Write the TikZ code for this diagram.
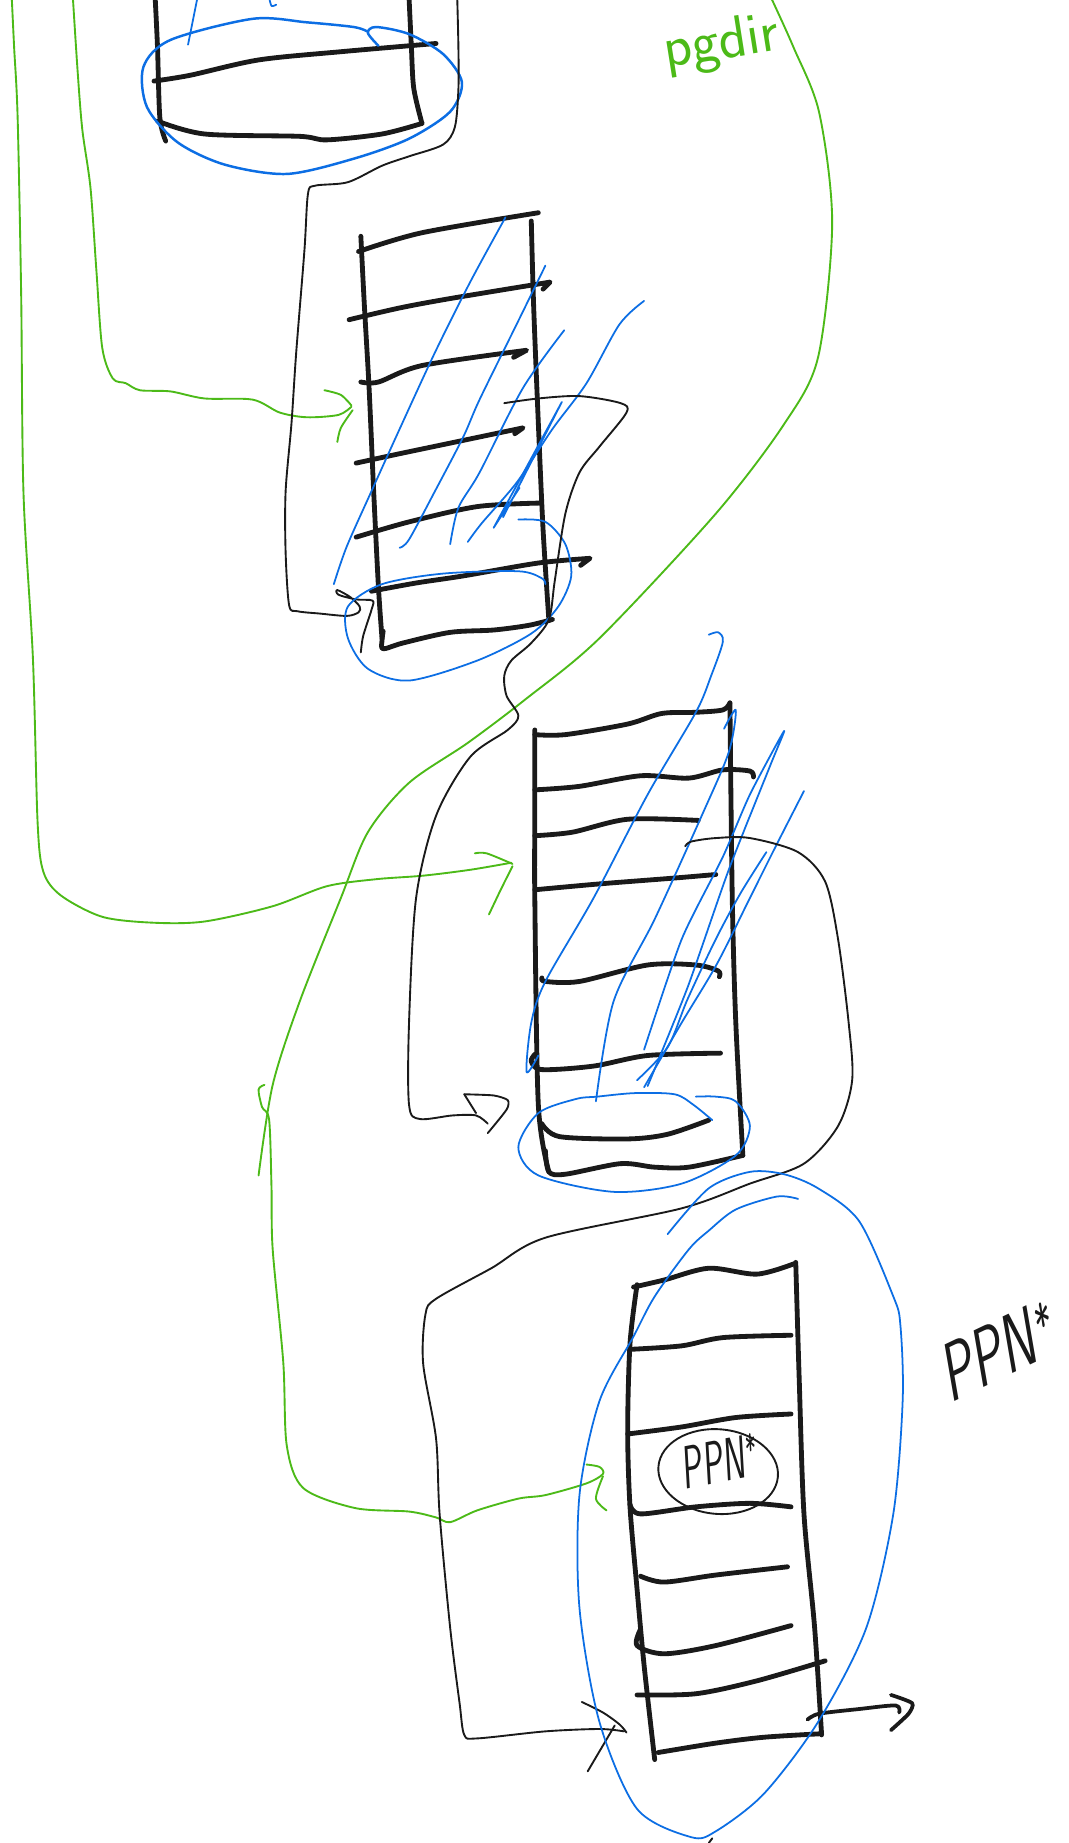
\documentclass[tikz,border=0pt]{standalone}
\usetikzlibrary{shapes.geometric}
\definecolor{inkblack}{RGB}{26,26,26}
\definecolor{hatchblue}{RGB}{12,110,228}
\definecolor{pengreen}{RGB}{76,186,24}
\begin{document}
\begin{tikzpicture}[x=1pt,y=-1pt,
  tbl/.style={draw=inkblack,line width=4.1pt,line cap=round,line join=round},
  thin/.style={draw=inkblack,line width=1.6pt,line cap=round,line join=round},
  hatch/.style={draw=hatchblue,line width=1.5pt,line cap=round,line join=round},
  grn/.style={draw=pengreen,line width=1.6pt,line cap=round,line join=round},
  handtext/.style={font=\sffamily, inner sep=0pt}]
\fill[white] (0,0) rectangle (909,1568);
\useasboundingbox (0,0) rectangle (909,1568);

% ---------- green pointers ----------
\draw[grn] plot[smooth] coordinates {(10,-2) (12,40) (15,100) (18,250) (20,420) (28,560) (32,700) (37,742) (52,762) (87,780) (130,785) (174,784) (232,771) (278,754) (320,748) (360,745) (400,740) (435,734)};
\draw[grn] plot[smooth] coordinates {(404,726) (414,726) (436,735)};
\draw[grn] plot[smooth] coordinates {(436,737) (426,757) (416,778)};

\draw[grn] plot[smooth] coordinates {(62,-2) (66,60) (70,110) (77,160) (82,230) (87,296) (96,322) (107,326) (119,332) (145,333) (174,339) (215,340) (238,351) (261,355) (288,353) (299,346)};
\draw[grn] plot[smooth] coordinates {(276,332) (290,336) (299,345)};
\draw[grn] plot[smooth] coordinates {(300,349) (290,364) (287,376)};

\draw[grn] plot[smooth] coordinates {(656,-2) (675,40) (697,96) (708,190) (696,304) (667,361) (609,437) (510,543) (447,595) (398,632) (348,666) (313,708) (290,764) (255,852) (232,923) (220,1000)};

\draw[grn] plot[smooth] coordinates {(225,923) (220,927) (223,942) (229,953) (231,1011) (232,1063) (241,1159) (244,1230) (258,1266) (302,1283) (348,1286) (371,1291) (383,1295) (406,1285) (441,1275) (464,1272) (499,1262) (513,1254) (510,1248) (499,1246)};
\draw[grn] plot[smooth] coordinates {(513,1256) (507,1275) (516,1285)};

\node[handtext, text=pengreen, font=\sffamily\fontsize{50}{52}\selectfont, rotate=9] (pgdir) at (614,38) {pgdir};

% ---------- first table (top) ----------
\draw[tbl] plot[smooth] coordinates {(132,-2) (134,40) (136,100) (141,120)};
\draw[tbl] plot[smooth] coordinates {(348,-2) (350,40) (352,75) (359,105)};
\draw[tbl] plot[smooth] coordinates {(131,69) (162,64) (220,51) (290,44) (371,37)};
\draw[tbl] plot[smooth] coordinates {(134,103) (174,114) (255,116) (278,119) (325,114) (359,105)};

\draw[hatch] (160,38) -- (168,-2);
\draw[hatch] plot[smooth] coordinates {(229,-2) (231,5) (235,4)};
\draw[hatchblue,line width=2.1pt,line cap=round] plot[smooth] coordinates {(322,39) (313,28) (320,23) (348,29) (377,46) (393,70) (383,95) (348,118) (301,135) (244,148) (191,140) (151,121) (125,91) (122,57) (145,34) (215,16) (261,19) (301,23) (313,27)};

% link from the first table down to the second
\draw[thin] plot[smooth, tension=0.5] coordinates {(389,-2) (390,40) (390,76) (387,108) (377,123) (348,133) (325,141) (296,155) (268,158) (262,165) (259,213) (252,300) (248,360) (243,418) (243,470) (246,515) (253,520) (272,522) (295,524) (305,521) (306,516) (298,508) (287,502) (288,506) (303,510) (317,511) (316,519) (309,541) (307,555)};

% ---------- second table ----------
\draw[tbl] plot[smooth] coordinates {(307,201) (310,260) (314,330) (318,420) (322,500) (325,543)};
\draw[tbl] plot[smooth] coordinates {(305,214) (359,198) (458,181)};
\draw[tbl] plot[smooth] coordinates {(452,188) (454,260) (458,360) (462,450) (467,528)};
\draw[tbl] plot[smooth] coordinates {(297,272) (340,262) (383,254) (468,240)} -- (462,246);
\draw[tbl] plot[smooth] coordinates {(307,325) (322,325) (359,311) (448,298)} -- (437,304);
\draw[tbl] plot[smooth] coordinates {(303,394) (340,386) (383,377) (445,364)} -- (438,369);
\draw[tbl] plot[smooth] coordinates {(303,457) (348,444) (406,431) (459,428)};
\draw[tbl] plot[smooth] coordinates {(316,503) (354,496) (394,490) (458,479) (502,475)} -- (494,481);
\draw[tbl] plot[smooth] coordinates {(326,537) (325,545) (326,552) (343,547) (383,538) (420,536) (450,532) (470,527)};

\draw[hatch] plot[smooth] coordinates {(430,185) (400,240) (370,300) (340,365) (316,418) (295,465) (284,497)};
\draw[hatch] plot[smooth] coordinates {(464,226) (440,275) (408,340) (394,372) (370,418) (348,459) (340,466)};
\draw[hatch] plot[smooth] coordinates {(480,281) (445,330) (408,402) (390,432) (383,463)};
\draw[hatch] plot[smooth] coordinates {(548,256) (527,276) (499,326) (470,365) (440,410) (410,445) (398,461)};
\draw[hatch] (442,415) -- (420,449) -- (478,342) -- (428,440);
\draw[hatch] plot[smooth] coordinates {(441,442) (464,444) (481,463) (486,490) (475,516) (452,539) (406,562) (348,579) (313,569) (296,543) (296,516) (325,497) (377,488) (441,486) (461,492) (464,497)};

% link from the second table down to the third
\draw[thin] plot[smooth, tension=0.5] coordinates {(429,343) (458,339) (493,337) (528,343) (533,351) (510,380) (493,402) (481,437) (472,494) (467,527) (452,547) (435,562) (429,575) (431,592) (441,609) (432,621) (400,644) (371,694) (354,764) (348,870) (348,940) (357,952) (385,949) (405,949) (415,956)};
\draw[thin] (395,931) -- (405,947);
\draw[thin] plot[smooth, tension=0.4] coordinates {(395,931) (420,932) (432,936) (431,944) (415,964)};

% ---------- third table ----------
\draw[tbl] plot[smooth] coordinates {(455,621) (455,700) (455,764) (458,940) (467,997)};
\draw[tbl] plot[smooth] coordinates {(455,625) (481,625) (534,616) (563,607) (592,606) (615,604) (621,598)};
\draw[tbl] plot[smooth] coordinates {(621,598) (623,764) (626,870) (632,983)};
\draw[tbl] plot[smooth] coordinates {(455,672) (493,669) (545,660) (586,662) (615,655) (638,656) (641,661)};
\draw[tbl] plot[smooth] coordinates {(455,711) (487,708) (534,697) (594,698)};
\draw[tbl] plot[smooth] coordinates {(455,757) (510,752) (574,747) (609,744)};
\draw[tbl] plot[smooth] coordinates {(461,832) (464,835) (493,835) (551,821) (592,821) (611,826) (612,831)};
\draw[tbl] plot[smooth] coordinates {(455,897) (452,903) (461,910) (505,907) (551,898) (613,896)};
\draw[tbl] plot[smooth] coordinates {(461,956) (476,967) (534,969) (568,965) (603,953)};
\draw[tbl] plot[smooth] coordinates {(464,979) (467,997) (481,999) (528,990) (557,993) (586,993) (632,983)};

\draw[hatch] plot[smooth] coordinates {(603,540) (611,538) (615,546) (605,575) (592,606) (551,676) (505,764) (464,835) (452,870) (448,912) (458,898)};
\draw[hatch] plot[smooth] coordinates {(616,620) (626,604) (620,640) (597,694) (557,782) (522,852) (507,937)};
\draw[hatch] plot[smooth, tension=0.4] coordinates {(548,893) (580,799) (615,729) (638,676) (667,622) (655,652) (620,740) (585,840) (551,924)};
\draw[hatch] plot[smooth] coordinates {(684,673) (660,720) (638,764) (610,820) (580,870) (548,925)};
\draw[hatch] plot[smooth] coordinates {(652,725) (630,760) (609,799) (585,850) (568,891) (542,919)};
\draw[hatch] plot[smooth, tension=0.5] coordinates {(606,953) (590,940) (574,931) (540,930) (508,933) (490,935) (458,947) (441,976) (458,1000) (522,1014) (580,1007) (626,983) (638,958) (626,937) (609,933) (592,933)};

% link from the third table down to the fourth
\draw[thin] plot[smooth, tension=0.5] coordinates {(583,720) (588,716) (609,713) (638,713) (679,725) (702,750) (713,799) (722,870) (725,919) (713,958) (684,990) (638,1007) (580,1028) (464,1053) (418,1079) (371,1105) (362,1118) (360,1160) (371,1224) (374,1288) (383,1385) (391,1449) (395,1476) (406,1479) (464,1473) (510,1471) (531,1473)};
\draw[thin] plot[smooth] coordinates {(495,1448) (513,1457) (527,1467) (533,1474)};
\draw[thin] (523,1468) -- (500,1507);

% ---------- fourth table ----------
\draw[tbl] plot[smooth] coordinates {(542,1093) (536,1143) (534,1217) (536,1282) (542,1352) (548,1417) (557,1497)};
\draw[tbl] plot[smooth] coordinates {(539,1095) (565,1089) (603,1079) (644,1084) (676,1075)};
\draw[tbl] plot[smooth] coordinates {(677,1074) (680,1175) (684,1288) (693,1384) (699,1476)};
\draw[tbl] plot[smooth] coordinates {(536,1148) (580,1145) (615,1138) (673,1136)};
\draw[tbl] plot[smooth] coordinates {(534,1220) (580,1214) (626,1206) (673,1203)};
\draw[tbl] plot[smooth] coordinates {(536,1280) (545,1288) (592,1282) (638,1279) (673,1282)};
\draw[tbl] plot[smooth] coordinates {(545,1341) (565,1346) (609,1340) (670,1333)};
\draw[tbl] plot[smooth] coordinates {(545,1386) (542,1400) (565,1407) (609,1400) (673,1383)};
\draw[tbl] plot[smooth] coordinates {(542,1442) (592,1441) (644,1430) (702,1413)};
\draw[tbl] plot[smooth] coordinates {(560,1491) (609,1483) (650,1478) (699,1475)};

% outgoing pointer of the last table
\draw[thin,line width=3.2pt] plot[smooth] coordinates {(687,1463) (697,1458) (731,1454) (762,1451) (765,1457)};
\draw[thin,line width=3.2pt] plot[smooth, tension=0.4] coordinates {(758,1442) (776,1449) (773,1458) (758,1472)};

% entry marked in the last table
\draw[thin, rotate around={-5:(611,1252)}] (611,1252) ellipse [x radius=51, y radius=36];
\node[handtext, text=inkblack, font=\sffamily\fontsize{52}{54}\selectfont, xscale=0.55, rotate=6] (ppnentry) at (613,1243) {PPN\textsuperscript{*}};

\draw[hatch] plot[smooth] coordinates {(568,1050) (603,1011) (638,997) (667,999) (696,1011) (731,1039) (760,1103) (766,1127) (768,1191) (760,1288) (737,1385) (696,1465) (650,1526) (609,1558) (588,1563) (542,1539) (510,1465) (493,1368) (493,1272) (510,1192) (539,1137) (557,1103) (586,1063) (603,1047) (626,1029) (661,1018) (679,1020)};

\draw[thin] (603,1568) -- (606,1564);

\node[handtext, text=inkblack, font=\sffamily\fontsize{72}{74}\selectfont, xscale=0.6, rotate=16] (ppnlabel) at (850,1148) {PPN\textsuperscript{*}};
\end{tikzpicture}
\end{document}
